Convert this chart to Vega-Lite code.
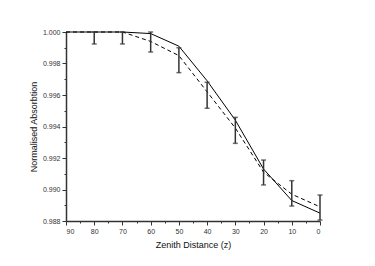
{
  "$schema": "https://vega.github.io/schema/vega-lite/v6.json",
  "autosize": "none",
  "width": 254,
  "height": 189,
  "padding": {"left": 66, "top": 32, "right": 55, "bottom": 45},
  "background": "white",
  "config": {
    "view": {"stroke": null},
    "font": "Liberation Sans",
    "axis": {
      "domainColor": "#333",
      "domainWidth": 1.5,
      "tickColor": "#333",
      "tickWidth": 1,
      "grid": false,
      "labelOverlap": false,
      "labelFont": "Liberation Sans",
      "labelFontSize": 7,
      "labelColor": "#333",
      "titleFont": "Liberation Sans",
      "titleFontSize": 9,
      "titleFontWeight": "normal",
      "titleColor": "#111"
    },
    "axisY": {"labelOverlap": false}
  },
  "data": {
    "values": [
      {"z": 90, "solid": 1.0, "dashed": 1.0},
      {"z": 80, "solid": 1.0, "dashed": 1.0, "lo": 0.99924, "hi": 1.0},
      {"z": 70, "solid": 1.0, "dashed": 1.0, "lo": 0.99924, "hi": 1.0},
      {"z": 60, "solid": 0.9999, "dashed": 0.9994, "lo": 0.99873, "hi": 1.0},
      {"z": 50, "solid": 0.9991, "dashed": 0.9985, "lo": 0.99742, "hi": 0.9990},
      {"z": 40, "solid": 0.9969, "dashed": 0.9962, "lo": 0.99516, "hi": 0.99681},
      {"z": 30, "solid": 0.9944, "dashed": 0.9939, "lo": 0.99293, "hi": 0.99458},
      {"z": 20, "solid": 0.9913, "dashed": 0.9911, "lo": 0.99029, "hi": 0.99187},
      {"z": 10, "solid": 0.9893, "dashed": 0.9897, "lo": 0.98895, "hi": 0.99056},
      {"z": 0, "solid": 0.9885, "dashed": 0.9889, "lo": 0.98806, "hi": 0.98965}
    ]
  },
  "encoding": {
    "x": {
      "field": "z",
      "type": "quantitative",
      "scale": {"domain": [0, 90], "reverse": true, "nice": false},
      "axis": {
        "title": "Zenith Distance (z)",
        "values": [0, 5, 10, 15, 20, 25, 30, 35, 40, 45, 50, 55, 60, 65, 70, 75, 80, 85, 90],
        "labelExpr": "datum.value % 10 === 0 ? datum.label : ''",
        "tickSize": {"condition": {"test": "datum.value % 10 !== 0", "value": 2}, "value": 4},
        "labelOverlap": false,
        "labelPadding": 2,
        "titlePadding": 6
      }
    },
    "y": {
      "field": "solid",
      "type": "quantitative",
      "scale": {"domain": [0.988, 1.0], "zero": false, "nice": false},
      "axis": {
        "title": "Normalised Absorbtion",
        "values": [0.988, 0.989, 0.99, 0.991, 0.992, 0.993, 0.994, 0.995, 0.996, 0.997, 0.998, 0.999, 1.0],
        "labelExpr": "round(datum.value * 1000) % 2 === 0 ? format(datum.value, '.3f') : ''",
        "tickSize": {"condition": {"test": "round(datum.value * 1000) % 2 !== 0", "value": 2}, "value": 4},
        "labelOverlap": false,
        "labelPadding": 2,
        "titlePadding": 4
      }
    }
  },
  "layer": [
    {
      "mark": {"type": "line", "color": "#000", "strokeWidth": 1}
    },
    {
      "mark": {"type": "line", "color": "#000", "strokeWidth": 1, "strokeDash": [4, 3]},
      "encoding": {"y": {"field": "dashed", "type": "quantitative"}}
    },
    {
      "transform": [{"filter": "isValid(datum.lo)"}],
      "mark": {"type": "rule", "color": "#333", "strokeWidth": 1.5},
      "encoding": {
        "y": {"field": "lo", "type": "quantitative"},
        "y2": {"field": "hi"}
      }
    },
    {
      "transform": [{"filter": "isValid(datum.lo)"}],
      "mark": {"type": "tick", "color": "#333", "orient": "horizontal", "size": 5, "thickness": 1.5},
      "encoding": {"y": {"field": "lo", "type": "quantitative"}}
    },
    {
      "transform": [{"filter": "isValid(datum.lo)"}],
      "mark": {"type": "tick", "color": "#333", "orient": "horizontal", "size": 5, "thickness": 1.5},
      "encoding": {"y": {"field": "hi", "type": "quantitative"}}
    }
  ]
}
